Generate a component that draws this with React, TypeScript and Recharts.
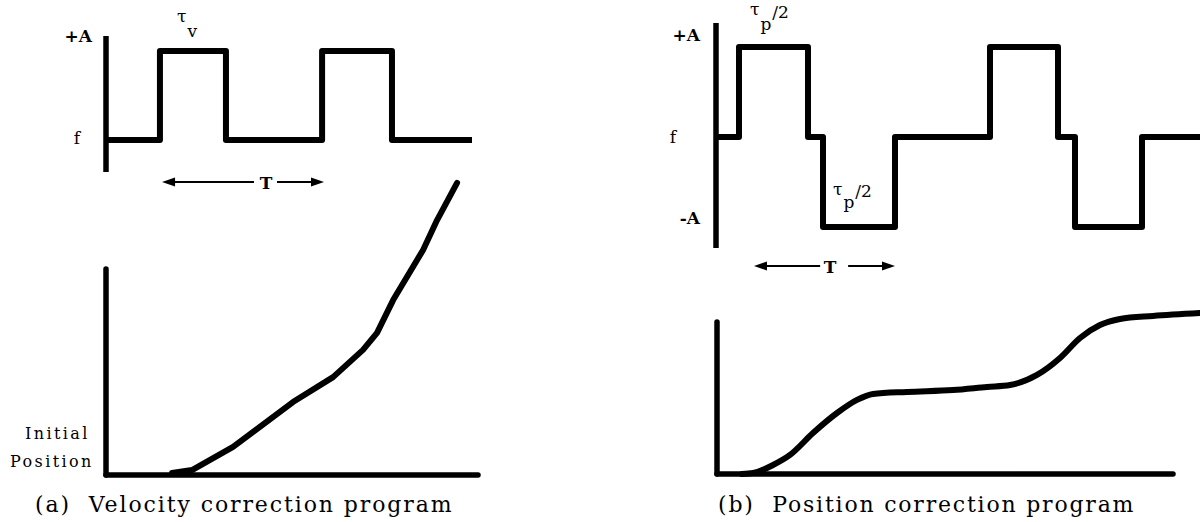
import { LineChart, Line, XAxis, YAxis, ReferenceLine, ReferenceDot } from 'recharts'

const SERIF = '"DejaVu Serif", "Liberation Serif", serif'
const INK = '#000'

// time is in tenths of the period T, thrust level in units of A (f = 0)
const velStepTimes = [0, 3.35, 7.45, 13.42, 17.76, 22.73]
const velStepLevels = [0, 1, 0, 1, 0, 0]
const velLevelTicks = [0, 1]
const velLevelNames = ['f', '+A']

// position response to the velocity program
const velPathTimes = [4.1, 5.34, 7.89, 11.61, 14.1, 15.96, 16.83, 17.83, 19.69, 20.56, 21.8]
const velPathValues = [0.07, 0.17, 0.96, 2.49, 3.34, 4.27, 4.85, 5.97, 7.68, 8.7, 9.97]

const posStepTimes = [0, 0.92, 3.68, 4.28, 7.16, 10.96, 13.68, 14.36, 17.04, 19.36]
const posStepLevels = [0, 1, 0, -1, 0, 1, 0, -1, 0, 0]
const posLevelTicks = [-1, 0, 1]
const posLevelNames = ['-A', 'f', '+A']

// position response to the position program
const posPathTimes = [1.0, 1.44, 2.24, 2.92, 3.84, 4.8, 5.6, 6.24, 7.6, 9.44, 10.8, 11.72, 12.8, 13.72, 14.52, 15.32, 16.12, 17.44, 19.32]
const posPathValues = [0, 0.06, 0.56, 1.19, 2.56, 3.81, 4.63, 5.0, 5.13, 5.25, 5.44, 5.56, 6.19, 7.25, 8.5, 9.31, 9.69, 9.88, 10.06]

const zipRows = (ts: number[], vs: number[]) => ts.map((t, i) => ({ t, v: vs[i] }))

const velSteps = zipRows(velStepTimes, velStepLevels)
const velPath = zipRows(velPathTimes, velPathValues)
const posSteps = zipRows(posStepTimes, posStepLevels)
const posPath = zipRows(posPathTimes, posPathValues)

type Offset = { dx: number; dy: number }

// level names next to the axis, each nudged to its own spot
function levelTick(ticks: number[], names: string[], offsets: Offset[]) {
  return (props: any) => {
    const { x, y, payload } = props
    const i = ticks.indexOf(payload.value)
    if (i < 0) return <g />
    const name = names[i]
    return (
      <text
        x={x + offsets[i].dx}
        y={y + offsets[i].dy}
        textAnchor="end"
        dominantBaseline="central"
        fontFamily={SERIF}
        fontSize={17}
        fontWeight={name === 'f' ? 400 : 700}
        fill={INK}
      >
        {name}
      </text>
    )
  }
}

// double-headed period arrow with the T written in the gap
function periodArrow(frac: number, gapL: number, gapR: number) {
  return (p: any) => {
    const { x1, y1, x2 } = p
    const xm = x1 + (x2 - x1) * frac
    return (
      <g>
        <line x1={x1 + 8} y1={y1} x2={xm - gapL} y2={y1} stroke={INK} strokeWidth={2} />
        <line x1={xm + gapR} y1={y1} x2={x2 - 8} y2={y1} stroke={INK} strokeWidth={2} />
        <polygon points={`${x1},${y1} ${x1 + 13},${y1 - 4.5} ${x1 + 13},${y1 + 4.5}`} fill={INK} />
        <polygon points={`${x2},${y1} ${x2 - 13},${y1 - 4.5} ${x2 - 13},${y1 + 4.5}`} fill={INK} />
        <text x={xm} y={y1 + 1} textAnchor="middle" dominantBaseline="central" fontFamily={SERIF} fontSize={17} fontWeight={700} fill={INK}>
          T
        </text>
      </g>
    )
  }
}

// pulse-width labels: tau with a subscript, optionally followed by a raised "/2"
function tauLabel(sub: string, subDy: number, halfDy?: number) {
  return (p: any) => (
    <text x={p.cx} y={p.cy} fontFamily={SERIF} fontSize={17} fill={INK}>
      <tspan>τ</tspan>
      <tspan dx={1} dy={subDy}>{sub}</tspan>
      {halfDy !== undefined && <tspan dx={1} dy={halfDy}>/2</tspan>}
    </text>
  )
}

const axisLine = { stroke: INK, strokeWidth: 5.5 }

function VelocityProgram() {
  return (
    <>
      <div style={{ position: 'absolute', left: 0, top: 0 }}>
        <LineChart width={480} height={200} data={velSteps} margin={{ top: 36, right: 8, bottom: 28, left: 46 }}>
          <XAxis dataKey="t" type="number" domain={[0, 22.73]} hide />
          <YAxis
            type="number"
            domain={[-0.36, 1.17]}
            ticks={velLevelTicks}
            width={60}
            axisLine={axisLine}
            tickLine={false}
            tickSize={0}
            tickMargin={0}
            tick={levelTick(velLevelTicks, velLevelNames, [{ dx: -26, dy: -2 }, { dx: -14, dy: -15 }])}
          />
          <Line
            dataKey="v"
            type="stepAfter"
            stroke={INK}
            strokeWidth={6}
            strokeLinejoin="round"
            dot={false}
            isAnimationActive={false}
          />
          <ReferenceLine
            segment={[{ x: 3.48, y: -0.472 }, { x: 13.54, y: -0.472 }]}
            ifOverflow="visible"
            shape={periodArrow(0.642, 12, 11)}
          />
          <ReferenceDot x={4.41} y={1.326} r={0} ifOverflow="visible" shape={tauLabel('v', 15)} />
        </LineChart>
      </div>
      <div style={{ position: 'absolute', left: 0, top: 150 }}>
        <LineChart width={490} height={340} data={velPath} margin={{ top: 32, right: 12, bottom: 15, left: 46 }}>
          <XAxis dataKey="t" type="number" domain={[0, 23.1]} hide />
          <YAxis
            type="number"
            domain={[0, 10]}
            ticks={[0]}
            width={60}
            axisLine={false}
            tickLine={false}
            tickSize={0}
            tickMargin={0}
            tick={(p: any) => (
              <text fontFamily={SERIF} fontSize={16} fill={INK} letterSpacing={2.4}>
                <tspan x={p.x - 81} y={p.y - 36}>Initial</tspan>
                <tspan x={p.x - 96} y={p.y - 8}>Position</tspan>
              </text>
            )}
          />
          <ReferenceLine
            segment={[{ x: 0, y: 0 }, { x: 0, y: 7.03 }]}
            stroke={INK}
            strokeWidth={5.5}
            strokeLinecap="round"
          />
          <ReferenceLine
            segment={[{ x: 0, y: 0 }, { x: 23.1, y: 0 }]}
            stroke={INK}
            strokeWidth={5.5}
            strokeLinecap="round"
          />
          <Line
            dataKey="v"
            type="linear"
            stroke={INK}
            strokeWidth={6}
            strokeLinejoin="round"
            strokeLinecap="round"
            dot={false}
            isAnimationActive={false}
          />
        </LineChart>
      </div>
    </>
  )
}

function PositionProgram() {
  return (
    <>
      <div style={{ position: 'absolute', left: 600, top: 0 }}>
        <LineChart width={600} height={290} data={posSteps} margin={{ top: 23, right: 0, bottom: 42, left: 56 }}>
          <XAxis dataKey="t" type="number" domain={[0, 19.36]} hide />
          <YAxis
            type="number"
            domain={[-1.233, 1.267]}
            ticks={posLevelTicks}
            width={60}
            axisLine={axisLine}
            tickLine={false}
            tickSize={0}
            tickMargin={0}
            tick={levelTick(posLevelTicks, posLevelNames, [
              { dx: -16, dy: -9 },
              { dx: -40, dy: 0 },
              { dx: -16, dy: -12 },
            ])}
          />
          <Line
            dataKey="v"
            type="stepAfter"
            stroke={INK}
            strokeWidth={6}
            strokeLinejoin="round"
            dot={false}
            isAnimationActive={false}
          />
          <ReferenceLine
            segment={[{ x: 1.52, y: -1.433 }, { x: 7.16, y: -1.433 }]}
            ifOverflow="visible"
            shape={periodArrow(0.54, 10, 18)}
          />
          <ReferenceDot x={1.36} y={1.356} r={0} ifOverflow="visible" shape={tauLabel('p', 15, -12)} />
          <ReferenceDot x={4.68} y={-0.644} r={0} ifOverflow="visible" shape={tauLabel('p', 13, -11)} />
        </LineChart>
      </div>
      <div style={{ position: 'absolute', left: 600, top: 290 }}>
        <LineChart width={600} height={200} data={posPath} margin={{ top: 18, right: 0, bottom: 16, left: 117 }}>
          <XAxis dataKey="t" type="number" domain={[0, 19.32]} hide />
          <YAxis type="number" domain={[0, 10.375]} hide />
          <ReferenceLine
            segment={[{ x: 0, y: 0 }, { x: 0, y: 9.5 }]}
            stroke={INK}
            strokeWidth={5.5}
            strokeLinecap="round"
          />
          <ReferenceLine
            segment={[{ x: 0, y: 0 }, { x: 18.24, y: 0 }]}
            stroke={INK}
            strokeWidth={5.5}
            strokeLinecap="round"
          />
          <Line
            dataKey="v"
            type="monotone"
            stroke={INK}
            strokeWidth={6}
            strokeLinecap="round"
            dot={false}
            isAnimationActive={false}
          />
        </LineChart>
      </div>
    </>
  )
}

const captionStyle = {
  position: 'absolute' as const,
  top: 492,
  fontFamily: SERIF,
  fontSize: 22,
  lineHeight: '26px',
  whiteSpace: 'pre' as const,
  color: INK,
}

export default function App() {
  return (
    <div style={{ position: 'fixed', left: 0, top: 0, width: 1200, height: 522, background: '#fff', overflow: 'hidden' }}>
      <VelocityProgram />
      <PositionProgram />
      <div style={{ ...captionStyle, left: 35, letterSpacing: 1.9 }}>(a)  Velocity correction program</div>
      <div style={{ ...captionStyle, left: 718, letterSpacing: 1.8 }}>(b)  Position correction program</div>
    </div>
  )
}
